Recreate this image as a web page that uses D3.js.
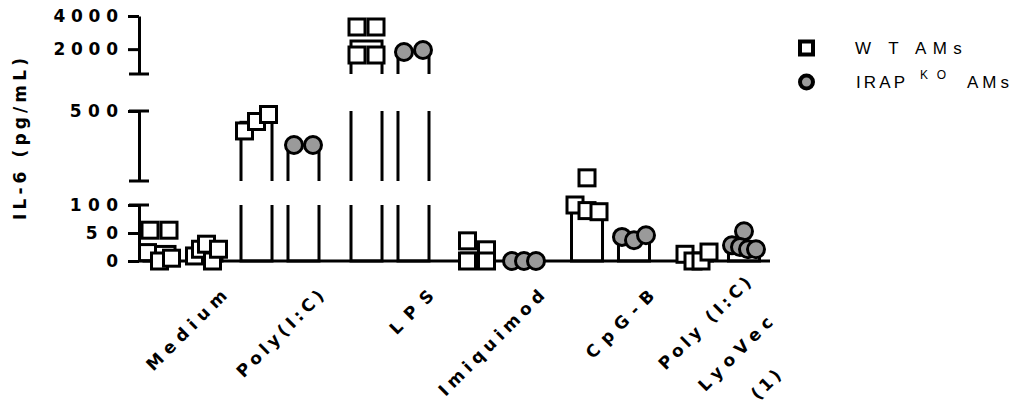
<!DOCTYPE html>
<html><head><meta charset="utf-8">
<script src="https://cdn.jsdelivr.net/npm/d3@7"></script>
<style>
body{margin:0;background:#fff}
svg{display:block}
text{font-family:"Liberation Sans",Arial,Helvetica,sans-serif;fill:#000}
</style>
</head><body>
<svg id="chart" width="1017" height="407"></svg>
<script>
// ---------------- data ----------------
const categories = ["Medium", "Poly(I:C)", "LPS", "Imiquimod", "CpG-B", "Poly (I:C) LyoVec (1)"];
const categoryLabels = [["Medium"], ["Poly(I:C)"], ["LPS"], ["Imiquimod"], ["CpG-B"], ["Poly (I:C)", "LyoVec", "(1)"]];
const seriesKeys = ["WT", "KO"];
const wtValues = [[55, 55, 15, 0, 5], [386, 440, 480], [3336, 3336, 1646, 1646], [36, 20, 0, 0], [118, 100, 90, 88], [12, 0, 0, 16]];
const koValues = [[9, 21, 30, 0, 21], [306, 306], [1827, 1948], [0, 0, 0], [43, 37, 46], [53, 28, 25, 21, 21]];
const wtSymbols = ["square", "square", "square", "square", "square", "square"];
const koSymbols = ["square", "circle", "circle", "circle", "circle", "circle"];
const segmentDomains = [[0, 100], [100, 500], [500, 4000]];
const segmentTicks = [[0, 50, 100], [500], [2000, 4000]];
const yTitle = "IL-6 (pg/mL)";
const legendWT = "W T AMs";
const legendKO = ["IRAP", "KO", "AMs"];

// ---------------- helpers ----------------
const ctx = document.createElement("canvas").getContext("2d");
function adv(str, size, weight) {
  ctx.font = `${weight} ${size}px "Liberation Sans"`;
  return ctx.measureText(str).width;
}
const HEAVY = '"DejaVu Sans","Liberation Sans",Arial,sans-serif';
const GLYPH = 17;
const ADV = 28;
function spaced(sel, str, advSize, weight) {
  sel.attr("textLength", adv(str, advSize, weight)).attr("lengthAdjust", "spacing");
}

// ---------------- layout ----------------
const svg = d3.select("#chart");
const axisX = 139, plotRight = 770;
const segRanges = [[261, 205], [181, 111], [74, 16]];
const baseY = segRanges[0][0];
const catX = d3.scaleOrdinal().domain(categories).range([183, 280, 390, 500.5, 610.5, 720.5]);
const sub = d3.scaleBand().domain(seriesKeys).range([-39, 39]).paddingInner(0.34);
const yScales = segmentDomains.map((d, i) => d3.scaleLinear().domain(d).range(segRanges[i]));
const segIndex = v => v <= segmentDomains[0][1] ? 0 : (v <= segmentDomains[1][1] ? 1 : 2);
const yPos = v => yScales[segIndex(v)](v);
const SW = 3;
const greyFill = "#9a9a9a";

const defs = svg.append("defs");
segRanges.forEach((r, i) => {
  defs.append("clipPath").attr("id", "seg" + i).append("rect")
    .attr("x", 0).attr("width", 1017)
    .attr("y", r[1]).attr("height", (r[0] - r[1]) + (i === 0 ? 3 : 0));
});

// ---------------- bars ----------------
const groups = [];
categories.forEach((c, ci) => {
  groups.push({cat: c, key: "WT", values: wtValues[ci], symbol: wtSymbols[ci]});
  groups.push({cat: c, key: "KO", values: koValues[ci], symbol: koSymbols[ci]});
});
const bw = sub.bandwidth();
const barLayer = svg.append("g");
groups.forEach(g => {
  const m = d3.mean(g.values);
  const x0 = catX(g.cat) + sub(g.key);
  segmentDomains.forEach((dom, i) => {
    if (m <= dom[0] && i > 0) return;
    let top = yScales[i](Math.min(m, dom[1]));
    if (m > dom[1]) top -= 6;
    const bottom = yScales[i](dom[0]) + (i > 0 ? 6 : 0);
    barLayer.append("rect")
      .attr("clip-path", "url(#seg" + i + ")")
      .attr("x", x0).attr("width", bw)
      .attr("y", top).attr("height", Math.max(0, bottom - top))
      .attr("fill", "#fff").attr("stroke", "#000").attr("stroke-width", SW);
  });
});

// ---------------- axes ----------------
const axisLayer = svg.append("g");
axisLayer.append("line").attr("x1", axisX).attr("x2", plotRight)
  .attr("y1", baseY).attr("y2", baseY).attr("stroke", "#000").attr("stroke-width", SW);
yScales.forEach((s, i) => {
  const ax = d3.axisLeft(s).tickValues(segmentTicks[i]).tickFormat(d3.format("d"))
    .tickSize(11).tickSizeOuter(0).tickPadding(10);
  const g = axisLayer.append("g").attr("transform", `translate(${axisX},0)`).call(ax);
  g.attr("font-family", null).attr("font-size", null);
  g.select(".domain").attr("stroke", "#000").attr("stroke-width", SW);
  g.selectAll(".tick line").attr("stroke", "#000").attr("stroke-width", SW);
  g.selectAll(".tick text").attr("font-size", GLYPH).attr("font-weight", "bold")
    .style("font-family", HEAVY).attr("fill", "#000")
    .each(function (d) { spaced(d3.select(this), d3.format("d")(d), 29, "bold"); });
  const r = s.range();
  const caps = [];
  if (i > 0) caps.push(r[0]);
  if (i < yScales.length - 1) caps.push(r[1]);
  caps.forEach(y => {
    g.append("line").attr("x1", -10).attr("x2", 10).attr("y1", y).attr("y2", y)
      .attr("stroke", "#000").attr("stroke-width", SW);
  });
});

// ---------------- points ----------------
function dodge(values) {
  const ys = values.map(yPos);
  const order = d3.range(values.length).sort((a, b) => ys[a] - ys[b]);
  const clusters = [];
  let cur = [];
  order.forEach((idx, k) => {
    if (k > 0 && ys[idx] - ys[order[k - 1]] > 10) { clusters.push(cur); cur = []; }
    cur.push(idx);
  });
  if (cur.length) clusters.push(cur);
  const off = new Array(values.length).fill(0);
  clusters.forEach(cl => {
    cl.sort((a, b) => a - b);
    const n = cl.length;
    const step = n <= 2 ? 19 : Math.min(19, 24 / (n - 1));
    cl.forEach((idx, k) => { off[idx] = (k - (n - 1) / 2) * step; });
  });
  return off;
}
const ptLayer = svg.append("g");
seriesKeys.forEach(key => {
  groups.filter(g => g.key === key).forEach(g => {
    const cx = catX(g.cat) + sub(g.key) + bw / 2;
    const offs = dodge(g.values);
    g.values.forEach((v, i) => {
      const x = cx + offs[i], y = yPos(v);
      if (g.symbol === "square") {
        ptLayer.append("rect").attr("x", x - 8).attr("y", y - 8).attr("width", 16).attr("height", 16)
          .attr("fill", "#fff").attr("stroke", "#000").attr("stroke-width", SW);
      } else {
        ptLayer.append("circle").attr("cx", x).attr("cy", y).attr("r", 8.5)
          .attr("fill", greyFill).attr("stroke", "#000").attr("stroke-width", SW);
      }
    });
  });
});

// ---------------- x labels ----------------
categories.forEach((c, ci) => {
  const lines = categoryLabels[ci];
  const g = svg.append("g").attr("transform", `translate(${catX(c) + 45},297) rotate(-45)`);
  if (lines.length === 1) {
    const t = g.append("text").attr("x", 0).attr("y", 0).attr("text-anchor", "end")
      .attr("font-size", GLYPH).attr("font-weight", "bold").style("font-family", HEAVY).text(lines[0]);
    spaced(t, lines[0], ADV, "bold");
  } else {
    const ws = lines.map(l => adv(l, ADV, "bold"));
    const W = d3.max(ws);
    lines.forEach((l, i) => {
      const t = g.append("text").attr("y", -18.7 + i * 43.4).attr("x", -W / 2)
        .attr("text-anchor", "middle").style("font-family", HEAVY)
        .attr("font-size", GLYPH).attr("font-weight", "bold").text(l);
      spaced(t, l, ADV, "bold");
    });
  }
});

// ---------------- y title ----------------
const yt = svg.append("text").attr("transform", "translate(26,139) rotate(-90)")
  .attr("text-anchor", "middle").attr("font-size", GLYPH).attr("font-weight", "bold")
  .style("font-family", HEAVY).text(yTitle);
spaced(yt, yTitle, 28.3, "bold");

// ---------------- legend ----------------
const lg = svg.append("g");
lg.append("rect").attr("x", 800).attr("y", 41.5).attr("width", 13).attr("height", 13)
  .attr("fill", "#fff").attr("stroke", "#000").attr("stroke-width", 4);
lg.append("circle").attr("cx", 806.5).attr("cy", 82).attr("r", 6.5)
  .attr("fill", greyFill).attr("stroke", "#000").attr("stroke-width", 4);
const t1 = lg.append("text").attr("x", 855).attr("y", 48).attr("dy", "0.35em").attr("font-size", 17).text(legendWT);
spaced(t1, legendWT, 26, "normal");
const t2 = lg.append("text").attr("y", 82).attr("dy", "0.35em").attr("font-size", 17);
const s1 = t2.append("tspan").attr("x", 856).text(legendKO[0]);
spaced(s1, legendKO[0], 21, "normal");
const s2 = t2.append("tspan").attr("x", 920).attr("dy", -9).attr("font-size", 12).text(legendKO[1]);
spaced(s2, legendKO[1], 18, "normal");
const s3 = t2.append("tspan").attr("x", 967).attr("dy", 9).text(legendKO[2]);
spaced(s3, legendKO[2], 21, "normal");
</script>
</body></html>
